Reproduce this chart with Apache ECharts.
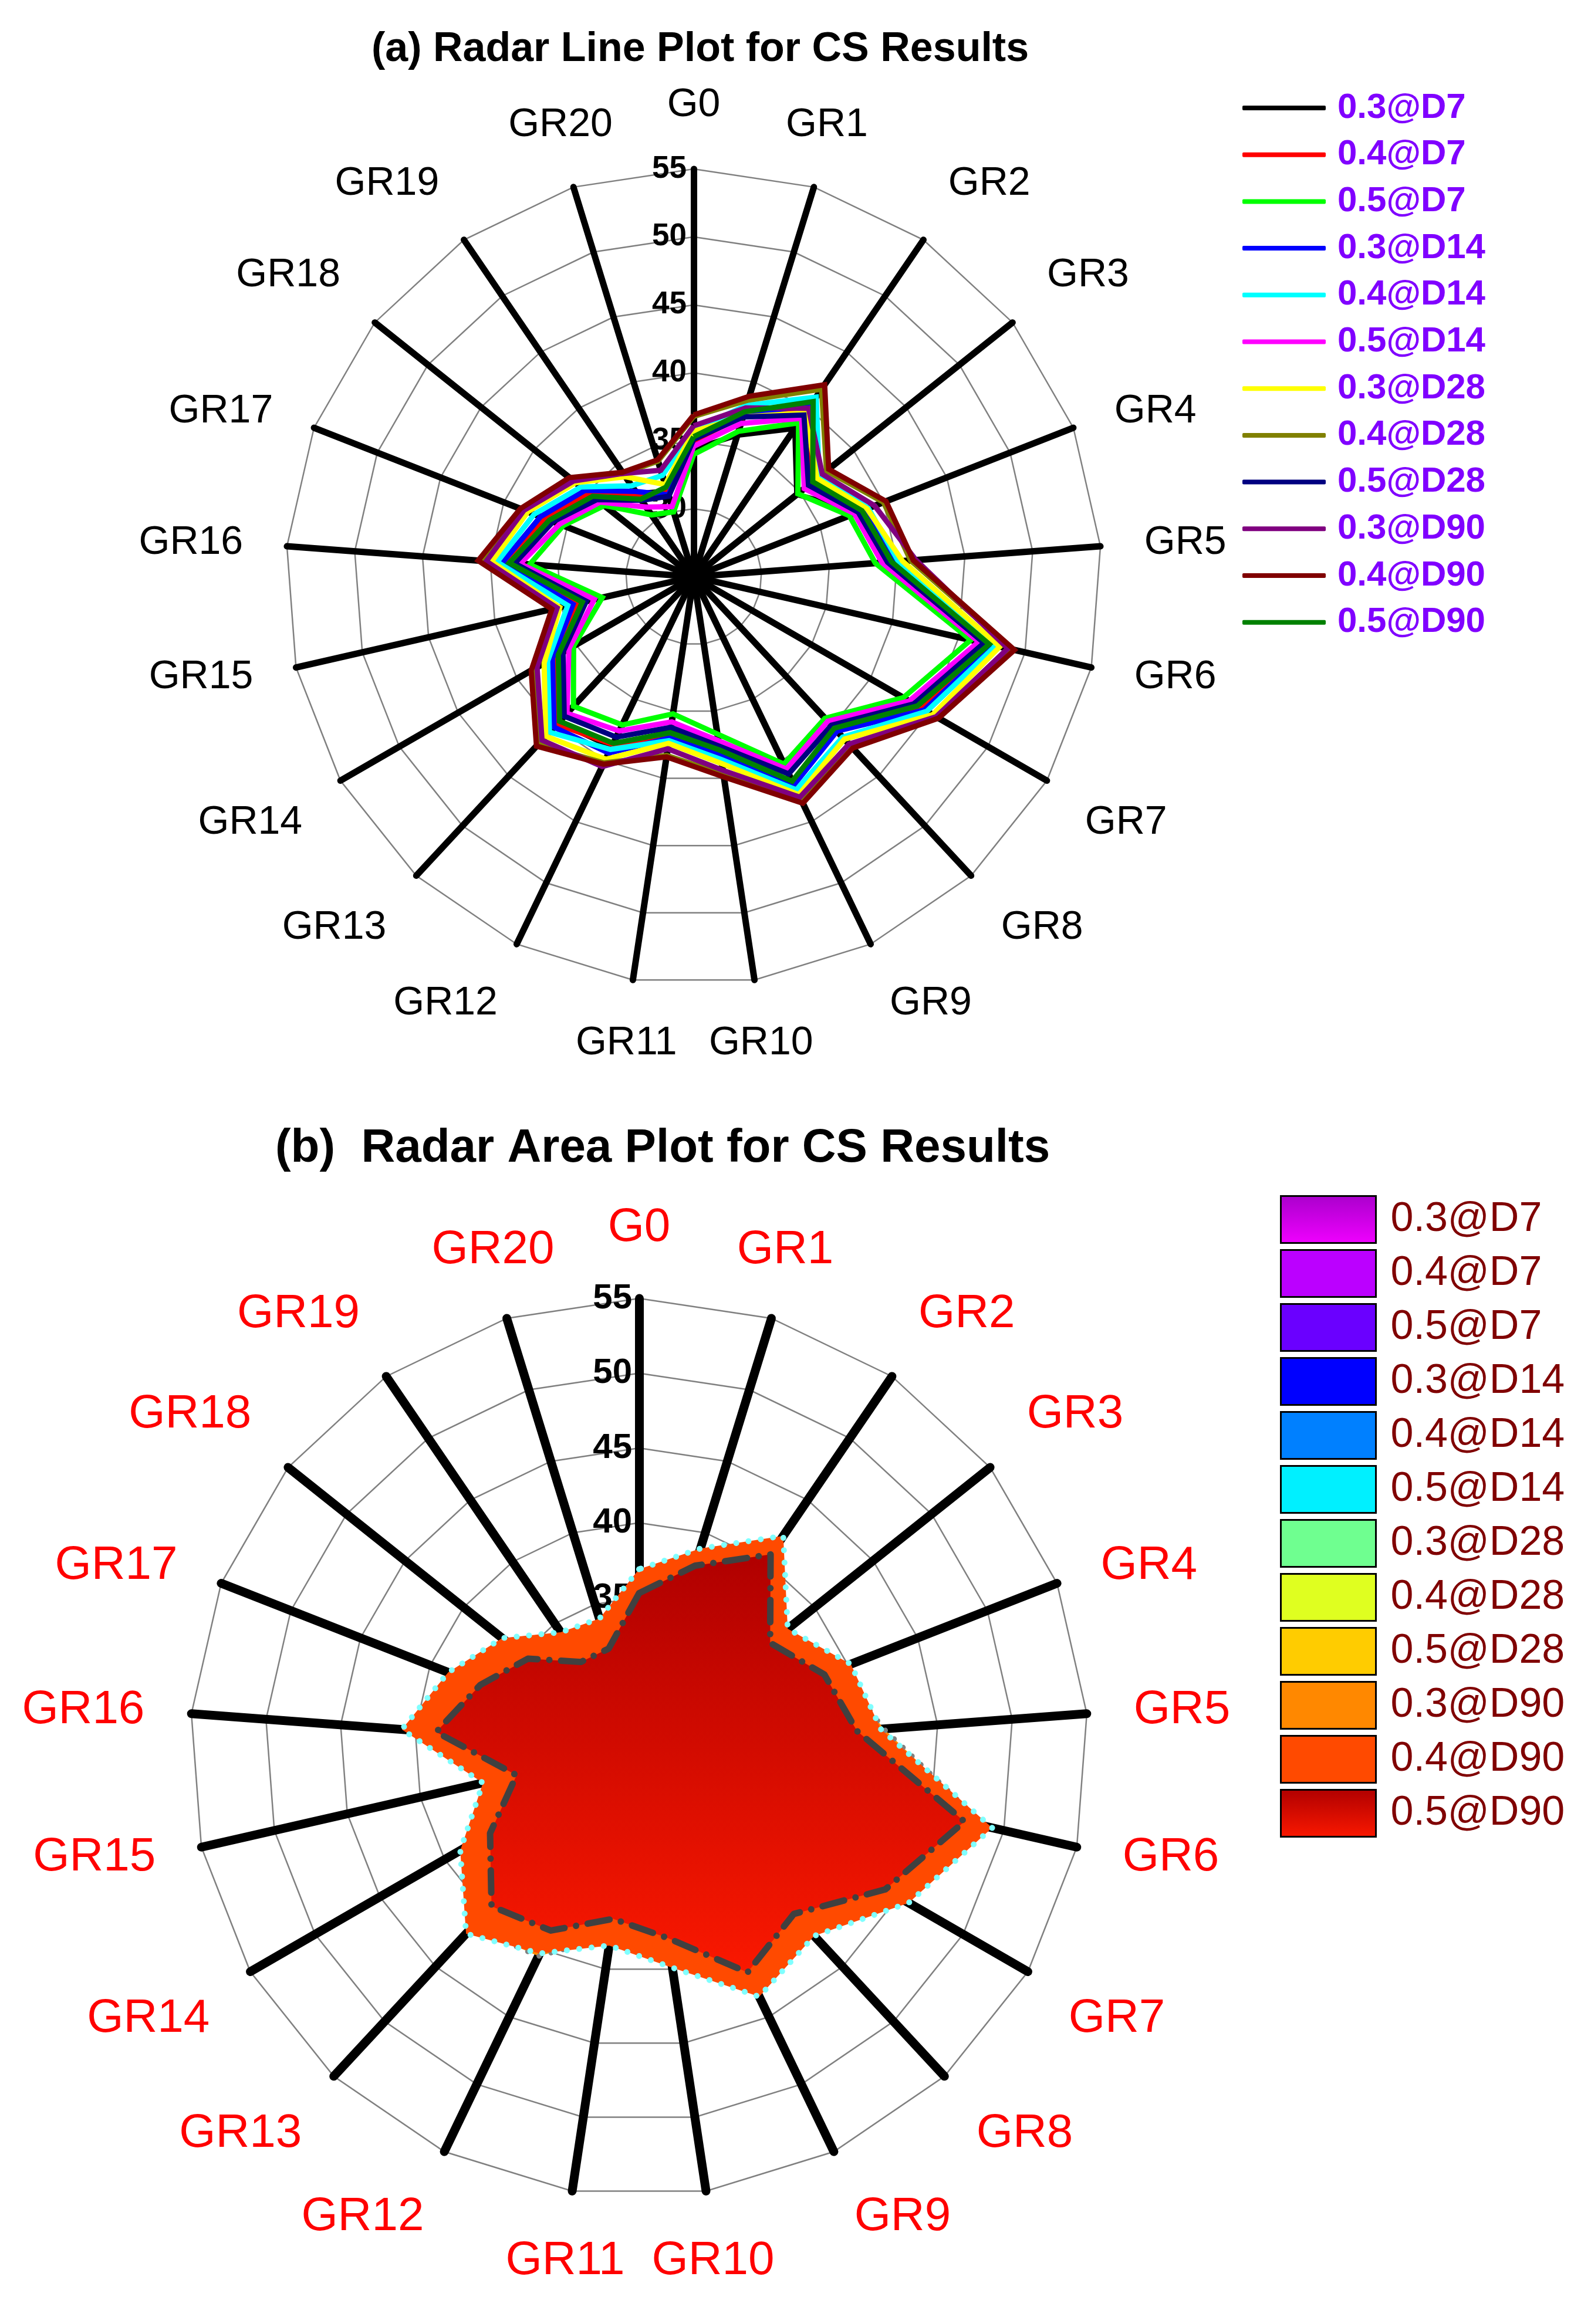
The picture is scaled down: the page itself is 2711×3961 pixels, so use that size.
<!DOCTYPE html>
<html>
<head>
<meta charset="utf-8">
<script src="https://cdn.jsdelivr.net/npm/echarts@6/dist/echarts.min.js"></script>
<style>
html,body{margin:0;padding:0;background:#fff;}
#c{width:2711px;height:3961px;}
</style>
</head>
<body>
<div id="c"></div>
<script>
// ---------------- DATA ----------------
const categories = ['G0','GR1','GR2','GR3','GR4','GR5','GR6','GR7','GR8','GR9','GR10',
                    'GR11','GR12','GR13','GR14','GR15','GR16','GR17','GR18','GR19','GR20'];
const seriesNames = ['0.3@D7','0.4@D7','0.5@D7','0.3@D14','0.4@D14','0.5@D14',
                     '0.3@D28','0.4@D28','0.5@D28','0.3@D90','0.4@D90','0.5@D90'];
const radialTicks = [30, 35, 40, 45, 50, 55];
const radialMin = 25, radialMax = 55;

const v03D7  = [34.4, 35.9, 38.2, 34.7, 38.1, 39.5, 47.0, 44.2, 40.3, 41.8, 38.0, 36.5, 38.9, 39.6, 36.7, 33.7, 38.7, 36.9, 35.0, 32.4, 31.6];
const v04D7  = [35.0, 37.4, 39.8, 36.0, 38.2, 39.7, 47.4, 44.4, 40.4, 41.9, 38.2, 36.8, 38.7, 39.8, 36.8, 33.8, 38.8, 36.8, 34.9, 32.3, 31.5];
const v05D7  = [34.0, 36.2, 38.7, 34.8, 37.3, 38.4, 45.9, 42.8, 39.2, 40.3, 36.7, 35.2, 37.1, 38.0, 35.2, 31.9, 37.1, 35.3, 33.4, 30.5, 30.0];
const v03D14 = [35.2, 37.5, 40.3, 36.4, 38.4, 39.8, 47.6, 44.6, 40.5, 42.0, 38.3, 37.0, 39.4, 40.1, 37.0, 34.1, 39.1, 37.1, 35.2, 32.6, 31.3];
const v04D14 = [35.8, 38.2, 41.0, 36.8, 38.8, 40.1, 47.8, 44.8, 41.1, 42.4, 38.6, 37.2, 39.1, 40.6, 37.4, 34.5, 39.5, 37.6, 35.6, 33.1, 32.8];
const v05D14 = [34.6, 36.8, 39.1, 35.4, 37.7, 38.9, 46.5, 43.3, 39.5, 40.7, 37.2, 35.8, 37.6, 38.7, 35.6, 32.5, 37.8, 35.6, 33.8, 31.2, 30.4];
const v03D28 = [35.7, 37.3, 39.6, 36.6, 38.7, 40.4, 48.1, 45.3, 41.3, 42.8, 38.9, 37.4, 39.9, 41.0, 37.7, 35.1, 39.9, 38.1, 36.1, 33.9, 32.1];
const v04D28 = [36.8, 38.6, 41.7, 37.5, 40.0, 41.0, 49.0, 45.7, 42.1, 43.3, 39.7, 38.3, 40.2, 41.8, 38.6, 35.6, 40.7, 38.6, 36.6, 34.2, 33.9];
const v05D28 = [35.1, 37.3, 39.4, 35.8, 38.0, 39.3, 46.9, 43.7, 39.9, 41.1, 37.6, 36.2, 38.1, 39.0, 36.1, 33.1, 38.2, 36.1, 34.1, 31.8, 31.2];
const v03D90 = [36.1, 38.0, 40.0, 37.1, 39.3, 41.4, 48.7, 45.6, 41.8, 43.0, 39.4, 37.8, 40.5, 41.4, 38.3, 35.3, 40.3, 38.4, 36.3, 34.2, 33.2];
const v04D90 = [36.9, 38.9, 42.1, 37.7, 40.2, 41.2, 49.2, 45.8, 42.2, 43.5, 39.9, 38.4, 40.3, 42.0, 38.8, 35.7, 40.9, 38.7, 36.7, 34.3, 34.0];
const v05D90 = [35.3, 37.7, 40.6, 36.2, 38.3, 39.6, 47.3, 44.0, 40.2, 41.7, 37.9, 36.6, 38.6, 39.5, 36.5, 33.4, 38.6, 36.4, 34.5, 31.9, 31.9];

const allValues = [v03D7, v04D7, v05D7, v03D14, v04D14, v05D14, v03D28, v04D28, v05D28, v03D90, v04D90, v05D90];

// ---------------- STYLE ----------------
const FONT = '"Liberation Sans", Arial, sans-serif';
const lineColors = ['#000000','#FF0000','#00FF00','#0000FF','#00FFFF','#FF00FF',
                    '#FFFF00','#808000','#000080','#800080','#800000','#008000'];
function vgrad(a, b) {
  return new echarts.graphic.LinearGradient(0, 0, 0, 1, [{offset: 0, color: a}, {offset: 1, color: b}]);
}
const fillColors = [vgrad('#AA00CC', '#F000FF'), '#BB00FF', '#6A00FF', '#0000FF', '#0080FF', '#00F0FF',
                    '#6FFF90', '#DFFF20', '#FFCC00', '#FF8800', '#FF4A00', vgrad('#B00000', '#FA1800')];
const areaLine = i => {
  if (i === 9)  return {color: '#808080', width: 9, type: [0.1, 21], cap: 'round'};
  if (i === 10) return {color: '#80FFFF', width: 10, type: [0.1, 21], cap: 'round'};
  if (i === 11) return {color: '#404040', width: 11, type: [38, 20, 0.1, 20], cap: 'round'};
  return {color: '#8000FF', width: 3};
};

// geometry
const TOP = {cx: 1182, cy: 983, r: 695};
const BOT = {cx: 1089, cy: 2978, r: 765};

// radar in ECharts runs counter-clockwise: reorder so the picture runs clockwise
const ord = [0].concat(categories.map((_, i) => i).slice(1).reverse());
const indicator = ord.map(i => ({name: categories[i], min: radialMin, max: radialMax}));
const reorder = arr => ord.map(i => arr[i]);

function radarCfg(g, axisW) {
  return {
    center: [g.cx, g.cy], radius: g.r, startAngle: 90, splitNumber: 6, shape: 'polygon',
    indicator: indicator,
    axisName: {show: false},
    axisLine: {lineStyle: {color: '#000', width: axisW}},
    axisTick: {show: false},
    axisLabel: {show: false},
    splitLine: {lineStyle: {color: '#808080', width: 2.5}},
    splitArea: {show: false}
  };
}

function nameTexts(g, gap, size, color) {
  const n = categories.length;
  return categories.map((name, k) => {
    const th = k * 2 * Math.PI / n;
    const s = Math.sin(th), c = Math.cos(th);
    const R = g.r + gap;
    return {
      type: 'text', silent: true, z: 10,
      x: g.cx + R * s, y: g.cy - R * c,
      style: {
        text: name,
        align: Math.abs(s) < 0.3 ? 'center' : (s > 0 ? 'left' : 'right'),
        verticalAlign: Math.abs(c) < 0.4 ? 'middle' : (c > 0 ? 'bottom' : 'top'),
        font: size + 'px ' + FONT, fill: color
      }
    };
  });
}

const series = [];
// (a) line plot
seriesNames.forEach((nm, i) => {
  series.push({
    type: 'radar', radarIndex: 0, symbol: 'none', z: 2,
    lineStyle: {color: lineColors[i], width: 9, join: 'miter'},
    itemStyle: {color: lineColors[i]},
    data: [{name: nm, value: reorder(allValues[i])}]
  });
});
// (b) area plot: each set = filled area, then its outline on top of it
seriesNames.forEach((nm, i) => {
  series.push({
    type: 'radar', radarIndex: 1, symbol: 'none', z: 2,
    lineStyle: {width: 0, opacity: 0},
    itemStyle: {color: fillColors[i]},
    areaStyle: {color: fillColors[i], opacity: 1},
    data: [{name: nm + '#b', value: reorder(allValues[i])}]
  });
  series.push({
    type: 'radar', radarIndex: 1, symbol: 'none', z: 2,
    lineStyle: areaLine(i),
    itemStyle: {color: areaLine(i).color},
    data: [{name: nm + '#l', value: reorder(allValues[i])}]
  });
});

const radialLabel = size => ({
  fontWeight: 'bold', fontSize: size, color: '#000', fontFamily: FONT, margin: 12,
  formatter: v => radialTicks.indexOf(v) >= 0 ? String(v) : ''
});

const option = {
  animation: false,
  backgroundColor: '#fff',
  title: [
    {text: '(a) Radar Line Plot for CS Results', left: 1188, top: 45, textAlign: 'center',
     textStyle: {fontSize: 70, fontWeight: 'bold', color: '#000', fontFamily: FONT}},
    {text: '(b)  Radar Area Plot for CS Results', left: 1124, top: 1913, textAlign: 'center',
     textStyle: {fontSize: 80, fontWeight: 'bold', color: '#000', fontFamily: FONT}}
  ],
  radar: [radarCfg(TOP, 11), radarCfg(BOT, 15)],
  polar: [
    {center: [TOP.cx, TOP.cy], radius: TOP.r},
    {center: [BOT.cx, BOT.cy], radius: BOT.r}
  ],
  angleAxis: [
    {polarIndex: 0, type: 'value', startAngle: 90, show: false},
    {polarIndex: 1, type: 'value', startAngle: 90, show: false}
  ],
  radiusAxis: [
    {polarIndex: 0, type: 'value', min: radialMin, max: radialMax, interval: 5, z: 1,
     axisLine: {show: false}, axisTick: {show: false}, splitLine: {show: false},
     axisLabel: radialLabel(53)},
    {polarIndex: 1, type: 'value', min: radialMin, max: radialMax, interval: 5, z: 1,
     axisLine: {show: false}, axisTick: {show: false}, splitLine: {show: false},
     axisLabel: radialLabel(60)}
  ],
  legend: [
    {data: seriesNames.map(n => ({name: n, icon: 'roundRect'})),
     orient: 'vertical', left: 2112, top: 149, itemWidth: 142, itemHeight: 8, itemGap: 19.7,
     selectedMode: false,
     textStyle: {color: '#8000FF', fontWeight: 'bold', fontSize: 60, fontFamily: FONT, lineHeight: 60,
                 padding: [0, 0, 0, 15]}},
    {data: seriesNames.map(n => ({name: n + '#b', icon: 'rect'})),
     orient: 'vertical', left: 2176, top: 2032, itemWidth: 162, itemHeight: 80, itemGap: 9,
     selectedMode: false,
     itemStyle: {borderColor: '#000', borderWidth: 3},
     formatter: n => n.split('#')[0],
     textStyle: {color: '#800000', fontSize: 70, fontFamily: FONT, lineHeight: 80,
                 padding: [0, 0, 0, 20]}}
  ],
  graphic: nameTexts(TOP, 75, 68, '#000').concat(nameTexts(BOT, 80, 80, '#FF0000')),
  series: series
};

const chart = echarts.init(document.getElementById('c'), null, {renderer: 'canvas'});
chart.setOption(option);
</script>
</body>
</html>
